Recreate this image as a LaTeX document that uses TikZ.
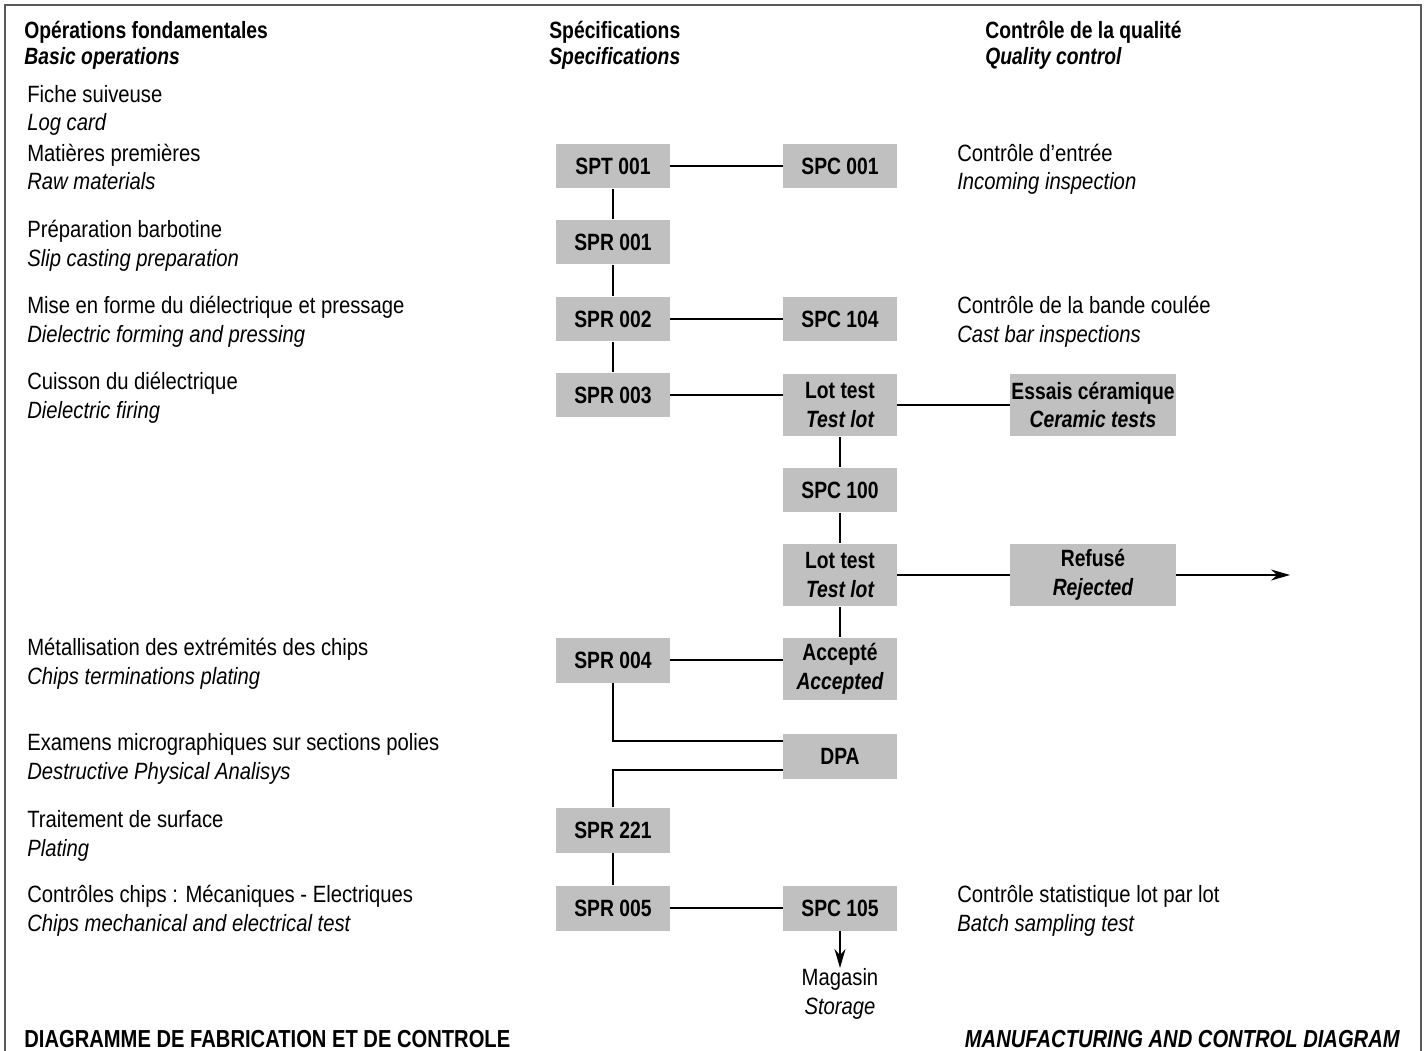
\documentclass[tikz,border=0pt]{standalone}
\usepackage{fontspec}
\setmainfont{Liberation Sans}[FakeStretch=0.86,
  BoldFeatures={FakeStretch=0.82},BoldItalicFeatures={FakeStretch=0.82}]
\usetikzlibrary{arrows.meta}
\definecolor{boxgray}{RGB}{192,192,192}
\definecolor{framegray}{RGB}{90,90,90}
\newcommand\fs{\fontsize{13.4}{16.4}\selectfont}

\begin{document}
\begin{tikzpicture}[>={Stealth[length=0.38cm,width=0.22cm]},x=0.02cm,y=-0.02cm,
    spec/.style={fill=boxgray,minimum width=2.27cm,minimum height=0.9cm,
      inner sep=0pt,align=center,font=\fs\bfseries},
    spectwo/.style={spec,minimum height=1.26cm},
    wide/.style={spectwo,minimum width=3.32cm},
    lbl/.style={anchor=base west,inner sep=0pt,align=left,font=\fs},
    hdr/.style={lbl,font=\fontsize{13.4}{15.3}\selectfont\bfseries},
    link/.style={line width=0.8pt}]
\useasboundingbox (0,0) rectangle (1427,1051);
\draw[framegray,line width=1.1pt] (5,1051) |- (1421,5) -- (1421,1051);

% headers (anchored on the second line)
\node[hdr] (hops) at (24,65) {Opérations fondamentales\\{\itshape Basic operations}};
\node[hdr] (hspec) at (549,65) {Spécifications\\{\itshape Specifications}};
\node[hdr] (hqual) at (985,65) {Contrôle de la qualité\\{\itshape Quality control}};

% operations
\node[lbl] (log) at (27,131) {Fiche suiveuse\\{\itshape Log card}};
\node[lbl] (raw) at (27,190) {Matières premières\\{\itshape Raw materials}};
\node[lbl] (slip) at (27,266) {Préparation barbotine\\{\itshape Slip casting preparation}};
\node[lbl] (form) at (27,342) {Mise en forme du diélectrique et pressage\\{\itshape Dielectric forming and pressing}};
\node[lbl] (fire) at (27,418) {Cuisson du diélectrique\\{\itshape Dielectric firing}};
\node[lbl] (term) at (27,684) {Métallisation des extrémités des chips\\{\itshape Chips terminations plating}};
\node[lbl] (micro) at (27,779) {Examens micrographiques sur sections polies\\{\itshape Destructive Physical Analisys}};
\node[lbl] (plat) at (27,856) {Traitement de surface\\{\itshape Plating}};
\node[lbl] (chips) at (27,931) {Contrôles chips : Mécaniques - Electriques\\{\itshape Chips mechanical and electrical test}};

% quality labels
\node[lbl] (inc) at (957,190) {Contrôle d’entrée\\{\itshape Incoming inspection}};
\node[lbl] (cast) at (957,342) {Contrôle de la bande coulée\\{\itshape Cast bar inspections}};
\node[lbl] (batch) at (957,931) {Contrôle statistique lot par lot\\{\itshape Batch sampling test}};

% boxes
\node[spec] (spt) at (613,166) {SPT 001};
\node[spec] (spca) at (840,166) {SPC 001};
\node[spec] (spra) at (613,242) {SPR 001};
\node[spec] (sprb) at (613,319) {SPR 002};
\node[spec] (spcb) at (840,319) {SPC 104};
\node[spec] (sprc) at (613,395) {SPR 003};
\node[spectwo] (lota) at (840,405) {Lot test\\{\itshape Test lot}};
\node[wide] (ess) at (1093,405) {Essais céramique\\{\itshape Ceramic tests}};
\node[spec] (spcc) at (840,490) {SPC 100};
\node[spectwo] (lotb) at (840,575) {Lot test\\{\itshape Test lot}};
\node[wide] (refus) at (1093,575) {Refusé\\{\itshape Rejected}};
\node[spec] (sprd) at (613,660) {SPR 004};
\node[spectwo] (acc) at (840,669) {Accepté\\{\itshape Accepted}};
\node[spec] (dpa) at (840,756) {DPA};
\node[spec] (spre) at (613,830) {SPR 221};
\node[spec] (sprf) at (613,908) {SPR 005};
\node[spec] (spcd) at (840,908) {SPC 105};
\node[lbl,anchor=north,align=center] (mag) at (840,968) {Magasin\\{\itshape Storage}};
\coordinate (out) at (1290,575);

% connectors
\draw[link] (spt) -- (spca);
\draw[link] (spt) -- (spra) -- (sprb) -- (sprc);
\draw[link] (sprb) -- (spcb);
\draw[link] (sprc.east) -- (sprc.east -| lota.west);
\draw[link] (lota) -- (ess);
\draw[link] (lota) -- (spcc) -- (lotb) -- (acc);
\draw[link] (lotb) -- (refus);
\draw[link,->] (refus) -- (out);
\draw[link] (sprd.east) -- (sprd.east -| acc.west);
\draw[link] (sprd.south) |- ([yshift=0.3cm]dpa.west);
\draw[link] ([yshift=-0.28cm]dpa.west) -| (spre.north);
\draw[link] (spre) -- (sprf) -- (spcd);
\draw[link,->] (spcd) -- (mag);

% footer
\node[lbl,font=\fontsize{14}{16}\selectfont\bfseries] (ftl) at (24,1047) {DIAGRAMME DE FABRICATION ET DE CONTROLE};
\node[lbl,anchor=base east,font=\fontsize{14}{16}\selectfont\bfseries\itshape] (ftr) at (1400,1047) {MANUFACTURING AND CONTROL DIAGRAM};
\end{tikzpicture}
\end{document}
